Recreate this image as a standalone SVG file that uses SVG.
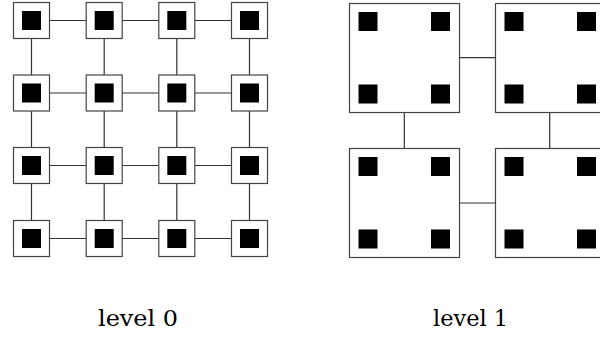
<svg xmlns="http://www.w3.org/2000/svg" width="600" height="337" viewBox="0 0 600 337">
<style>
.box{fill:#fff;stroke:#444;stroke-width:1.2}
.core{fill:#000}
.ln{stroke:#333;stroke-width:1.2;fill:none}
.lbl{font-family:"DejaVu Serif","Liberation Serif",serif;font-size:22px;fill:#000;text-anchor:middle}
</style>
<defs>
<g id="cell"><rect class="box" x="0" y="0" width="36" height="36"/><rect class="core" x="8.5" y="8.5" width="19" height="19"/></g>
<g id="blk"><rect class="box" x="0" y="0" width="110" height="109"/><rect class="core" x="9" y="8.5" width="19" height="19"/><rect class="core" x="81.5" y="8.5" width="19" height="19"/><rect class="core" x="9" y="81" width="19" height="19"/><rect class="core" x="81.5" y="81" width="19" height="19"/></g>
</defs>
<g id="connectors">
<path class="ln" d="M49.5 20.5H86.2M122.2 20.5H158.8M194.8 20.5H231.5M49.5 93H86.2M122.2 93H158.8M194.8 93H231.5M49.5 165.5H86.2M122.2 165.5H158.8M194.8 165.5H231.5M49.5 238.5H86.2M122.2 238.5H158.8M194.8 238.5H231.5"/>
<path class="ln" d="M31.5 38.5V75M31.5 111V147.5M31.5 183.5V220.5M104.2 38.5V75M104.2 111V147.5M104.2 183.5V220.5M176.8 38.5V75M176.8 111V147.5M176.8 183.5V220.5M249.5 38.5V75M249.5 111V147.5M249.5 183.5V220.5"/>
<path class="ln" d="M459.5 57.7H495.5M459.5 203H495.5M404.3 112.5V148.5M549.7 112.5V148.5"/>
</g>
<g id="level0">
<use id="n00" href="#cell" x="13.5" y="2.5"/><use id="n01" href="#cell" x="86.2" y="2.5"/><use id="n02" href="#cell" x="158.8" y="2.5"/><use id="n03" href="#cell" x="231.5" y="2.5"/>
<use id="n10" href="#cell" x="13.5" y="75"/><use id="n11" href="#cell" x="86.2" y="75"/><use id="n12" href="#cell" x="158.8" y="75"/><use id="n13" href="#cell" x="231.5" y="75"/>
<use id="n20" href="#cell" x="13.5" y="147.5"/><use id="n21" href="#cell" x="86.2" y="147.5"/><use id="n22" href="#cell" x="158.8" y="147.5"/><use id="n23" href="#cell" x="231.5" y="147.5"/>
<use id="n30" href="#cell" x="13.5" y="220.5"/><use id="n31" href="#cell" x="86.2" y="220.5"/><use id="n32" href="#cell" x="158.8" y="220.5"/><use id="n33" href="#cell" x="231.5" y="220.5"/>
</g>
<g id="level1">
<use id="b00" href="#blk" x="349.5" y="3.5"/><use id="b01" href="#blk" x="495.5" y="3.5"/>
<use id="b10" href="#blk" x="349.5" y="148.5"/><use id="b11" href="#blk" x="495.5" y="148.5"/>
</g>
<g id="labels">
<text class="lbl" x="138" y="326" textLength="80" lengthAdjust="spacingAndGlyphs">level 0</text>
<text class="lbl" x="470.5" y="326" textLength="75" lengthAdjust="spacingAndGlyphs">level 1</text>
</g>
</svg>
